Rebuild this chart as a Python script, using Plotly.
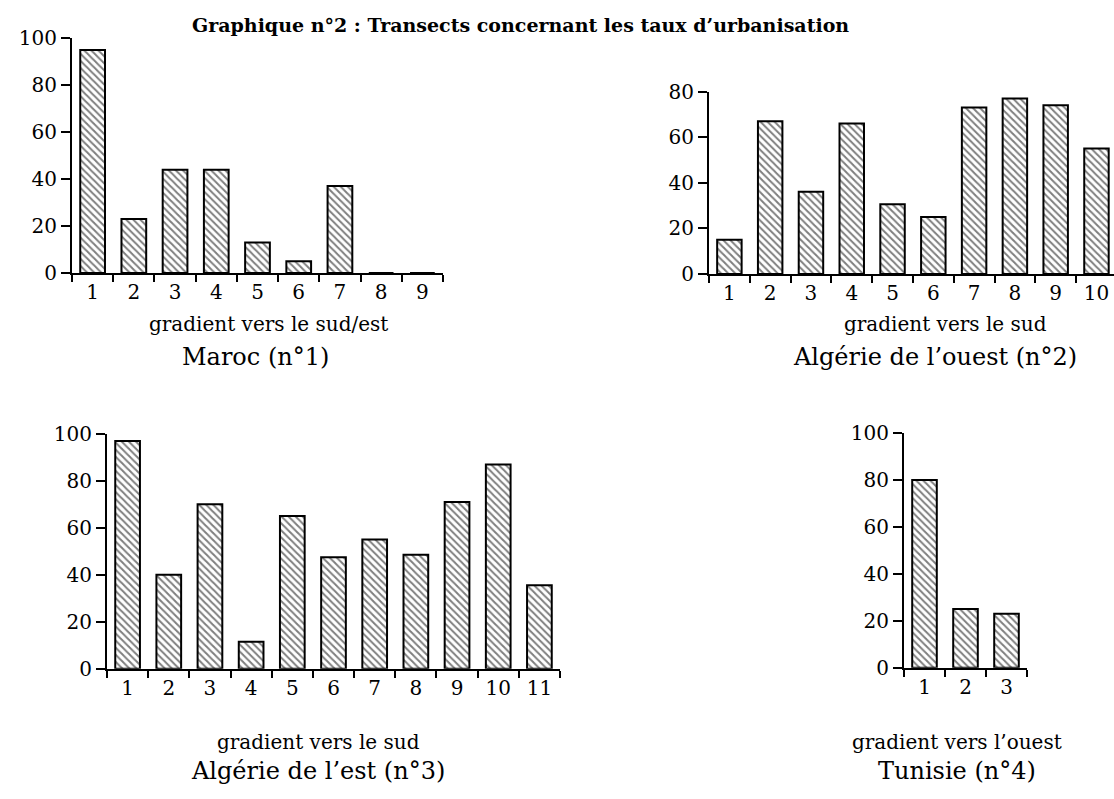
import plotly.graph_objects as go

W, H = 1114, 799

# Maroc (n°1)
maroc_cats = ["1", "2", "3", "4", "5", "6", "7", "8", "9"]
maroc_vals = [95, 23, 44, 44, 13, 5, 37, 0, 0]

# Algérie de l'ouest (n°2)
ouest_cats = ["1", "2", "3", "4", "5", "6", "7", "8", "9", "10"]
ouest_vals = [15, 67, 36, 66, 30.5, 25, 73, 77, 74, 55]

# Algérie de l'est (n°3)
est_cats = ["1", "2", "3", "4", "5", "6", "7", "8", "9", "10", "11"]
est_vals = [97, 40, 70, 11.5, 65, 47.5, 55, 48.5, 71, 87, 35.5]

# Tunisie (n°4)
tunisie_cats = ["1", "2", "3"]
tunisie_vals = [80, 25, 23]

FONT = "DejaVu Serif"


def px_x(x):
    return x / W


def px_y(y):
    return 1 - y / H


# cats, vals, axis x start/end (px), x range, y of 0 / top (px), y max,
# x label, panel title, label x, title x, label y, title y (px)
panels = [
    (maroc_cats, maroc_vals, 72, 443, [-0.5, 8.5], 269, 27, 100,
     "gradient vers le sud/est", "Maroc (n°1)", 268, 255, 322, 356),
    (ouest_cats, ouest_vals, 709, 1114, [-0.5, 9.43], 270, 82, 80,
     "gradient vers le sud", "Algérie de l’ouest (n°2)", 945, 935, 322, 356),
    (est_cats, est_vals, 107, 560, [-0.5, 10.5], 677, 435, 100,
     "gradient vers le sud", "Algérie de l’est (n°3)", 318, 318, 753, 782),
    (tunisie_cats, tunisie_vals, 904, 1027, [-0.5, 2.5], 676, 434, 100,
     "gradient vers l’ouest", "Tunisie (n°4)", 957, 957, 753, 782),
]

fig = go.Figure()
annotations = []

for i, (cats, vals, x0, x1, xr, yz, yt, ymax, xlab, title, lx, tx, ly, ty) in enumerate(panels, start=1):
    suffix = "" if i == 1 else str(i)
    fig.add_trace(
        go.Bar(
            x=cats,
            y=vals,
            width=0.6,
            xaxis="x" + suffix,
            yaxis="y" + suffix,
            marker={
                "color": "white",
                "line": {"color": "black", "width": 2},
                "pattern": {"shape": "\\", "fgcolor": "black", "bgcolor": "white",
                            "size": 5, "solidity": 0.4},
            },
            showlegend=False,
        )
    )
    fig.update_layout(**{
        "xaxis" + suffix: dict(
            domain=[px_x(x0), px_x(x1)],
            anchor="y" + suffix,
            type="category",
            range=xr,
            showline=True, linecolor="black", linewidth=2,
            ticks="outside", tickson="boundaries", ticklen=7, tickwidth=2, tickcolor="black",
            showgrid=False, zeroline=False,
            tickfont={"family": FONT, "size": 20, "color": "black"},
        ),
        "yaxis" + suffix: dict(
            domain=[px_y(yz), px_y(yt)],
            anchor="x" + suffix,
            range=[0, ymax],
            dtick=20,
            showline=True, linecolor="black", linewidth=2,
            ticks="outside", ticklen=9, tickwidth=2, tickcolor="black",
            showgrid=False, zeroline=False,
            tickfont={"family": FONT, "size": 20, "color": "black"},
        ),
    })
    annotations.append(dict(
        x=px_x(lx), y=px_y(ly), xref="paper", yref="paper", text=xlab, showarrow=False,
        xanchor="center", yanchor="middle", font={"family": FONT, "size": 20, "color": "black"},
    ))
    annotations.append(dict(
        x=px_x(tx), y=px_y(ty), xref="paper", yref="paper", text=title, showarrow=False,
        xanchor="center", yanchor="middle", font={"family": FONT, "size": 24, "color": "black"},
    ))

annotations.append(dict(
    x=px_x(520), y=1, xref="paper", yref="paper",
    text="<b>Graphique n°2 : Transects concernant les taux d’urbanisation</b>",
    showarrow=False, xanchor="center", yanchor="top",
    font={"family": FONT, "size": 19, "color": "black"},
))

fig.update_layout(
    width=W, height=H,
    margin={"l": 0, "r": 0, "t": 0, "b": 0},
    paper_bgcolor="white", plot_bgcolor="white",
    annotations=annotations,
)

# drop the page's default body margin so the figure fills the window exactly
fig.write_html(
    "out.html",
    config={"displayModeBar": False},
    post_script="document.body.style.margin='0px';",
)
